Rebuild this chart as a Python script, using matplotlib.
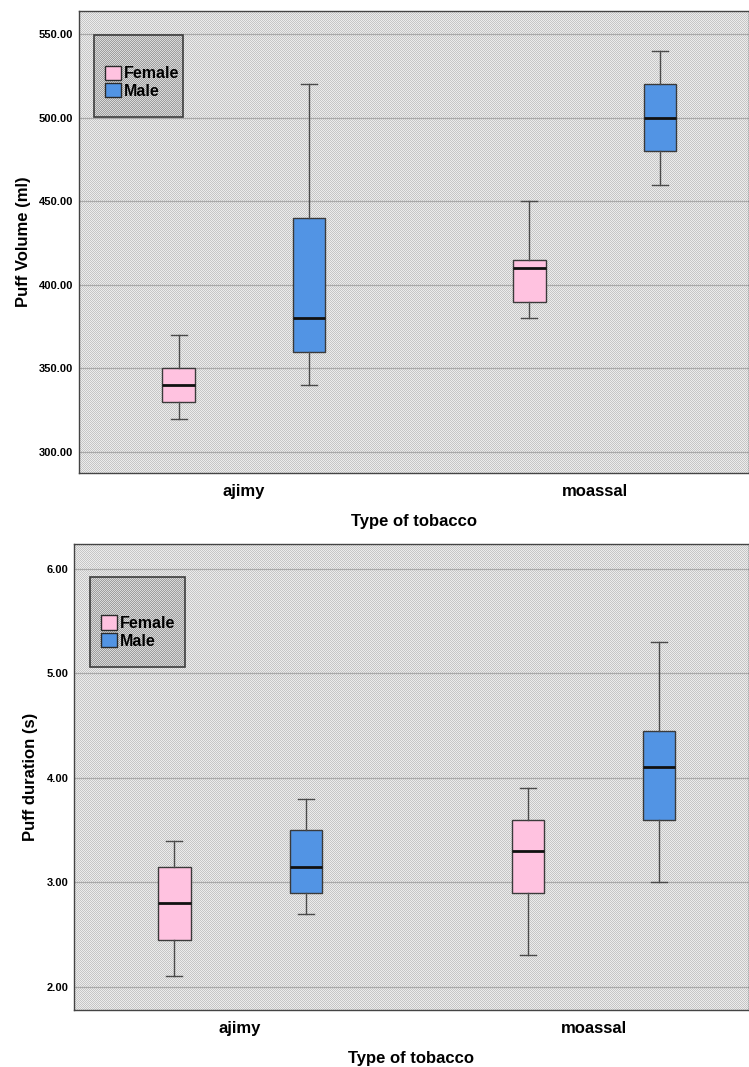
import numpy as np
import matplotlib
matplotlib.use("Agg")
import matplotlib.pyplot as plt
from matplotlib.patches import Rectangle, Patch

plt.rcParams['font.family'] = ['Liberation Sans', 'DejaVu Sans']
plt.rcParams['font.weight'] = 'bold'

# ---------------- data ----------------
categories = ['ajimy', 'moassal']
groups = ['Female', 'Male']
group_colors = ['#FFC2E0', '#5294E4']

# Puff volume (ml)
vol_female_low = [320, 380]
vol_female_q1 = [330, 390]
vol_female_med = [340, 410]
vol_female_q3 = [350, 415]
vol_female_high = [370, 450]

vol_male_low = [340, 460]
vol_male_q1 = [360, 480]
vol_male_med = [380, 500]
vol_male_q3 = [440, 520]
vol_male_high = [520, 540]

# Puff duration (s)
dur_female_low = [2.10, 2.30]
dur_female_q1 = [2.45, 2.90]
dur_female_med = [2.80, 3.30]
dur_female_q3 = [3.15, 3.60]
dur_female_high = [3.40, 3.90]

dur_male_low = [2.70, 3.00]
dur_male_q1 = [2.90, 3.60]
dur_male_med = [3.15, 4.10]
dur_male_q3 = [3.50, 4.45]
dur_male_high = [3.80, 5.30]

vol_ticks = [300, 350, 400, 450, 500, 550]
dur_ticks = [2, 3, 4, 5, 6]


def make_stats(low, q1, med, q3, high):
    return [dict(whislo=a, q1=b, med=c, q3=d, whishi=e, fliers=[])
            for a, b, c, d, e in zip(low, q1, med, q3, high)]


def checker(h, w, c1, c2):
    yy, xx = np.indices((h, w))
    m = ((yy + xx) % 2).astype(float)
    c1 = np.array(matplotlib.colors.to_rgb(c1))
    c2 = np.array(matplotlib.colors.to_rgb(c2))
    return c1[None, None, :] * (1 - m[..., None]) + c2[None, None, :] * m[..., None]


fig = plt.figure(figsize=(7.49, 10.67), dpi=100)

offset = 0.186
bw = 0.092


def draw_panel(ax, stats_f, stats_m, ticks, fmt, ylim, ylabel, leg_rect, pix):
    ax.set_facecolor('#d8d8d8')
    ax.imshow(checker(pix[1], pix[0], '#c6c6c6', '#ececec'), transform=ax.transAxes,
              extent=[0, 1, 0, 1], aspect='auto', interpolation='nearest', zorder=0)
    for t in ticks:
        ax.axhline(t, color='#a9a9a9', lw=0.9, zorder=1)
    idx = np.arange(len(categories))
    for stats, pos, col in [(stats_f, idx - offset, group_colors[0]),
                            (stats_m, idx + offset, group_colors[1])]:
        ax.bxp(stats, positions=pos, widths=bw, capwidths=bw / 2, showfliers=False,
               patch_artist=True, manage_ticks=False,
               boxprops=dict(facecolor=col, edgecolor='#3a3a3a', lw=1.0),
               whiskerprops=dict(color='#4a4a4a', lw=1.0),
               capprops=dict(color='#4a4a4a', lw=1.0),
               medianprops=dict(color='#111111', lw=2.0), zorder=3)
    ax.set_xlim(-0.47, 1.44)
    ax.set_ylim(*ylim)
    ax.set_yticks(ticks)
    ax.set_yticklabels([fmt.format(t) for t in ticks], fontsize=8, fontweight='bold')
    ax.set_xticks(idx)
    ax.set_xticklabels(categories, fontsize=12, fontweight='bold')
    ax.tick_params(axis='both', length=0, pad=4)
    ax.tick_params(axis='x', pad=8)
    ax.set_ylabel(ylabel, fontsize=12, fontweight='bold', labelpad=6)
    ax.set_xlabel('Type of tobacco', fontsize=12, fontweight='bold', labelpad=11)
    for s in ax.spines.values():
        s.set_color('#444444')
        s.set_linewidth(1.0)
    # legend box
    x0, y0, w, h = leg_rect
    ax.imshow(checker(int(h * pix[1]), int(w * pix[0]), '#9e9e9e', '#d8d8d8'),
              transform=ax.transAxes, extent=[x0, x0 + w, y0, y0 + h], aspect='auto',
              interpolation='nearest', zorder=4)
    ax.add_patch(Rectangle((x0, y0), w, h, transform=ax.transAxes, fill=False,
                           edgecolor='#3c3c3c', lw=1.2, zorder=5))
    handles = [Patch(facecolor=c, edgecolor='#2a2a2a', lw=1.0, label=g)
               for g, c in zip(groups, group_colors)]
    leg = ax.legend(handles=handles, loc='lower left',
                    bbox_to_anchor=(x0 - 0.002, y0 + 0.012), frameon=False,
                    prop=dict(size=11.5, weight='bold'), handlelength=1.0,
                    handleheight=1.0, handletextpad=0.15, labelspacing=0.12,
                    borderpad=0.3)
    leg.set_zorder(6)


# top panel: axes 79..749 px, 11..473 px
ax1 = fig.add_axes([79 / 749, 1 - 473 / 1067, 670 / 749, 462 / 1067])
draw_panel(ax1, make_stats(vol_female_low, vol_female_q1, vol_female_med, vol_female_q3, vol_female_high),
           make_stats(vol_male_low, vol_male_q1, vol_male_med, vol_male_q3, vol_male_high),
           vol_ticks, '{:.2f}', (287.4, 564), 'Puff Volume (ml)',
           ((94 - 79) / 670, (473 - 117) / 462, 89 / 670, 82 / 462), (670, 462))

# bottom panel: axes 74..749 px, 544..1010 px
ax2 = fig.add_axes([74 / 749, 1 - 1010 / 1067, 675 / 749, 466 / 1067])
draw_panel(ax2, make_stats(dur_female_low, dur_female_q1, dur_female_med, dur_female_q3, dur_female_high),
           make_stats(dur_male_low, dur_male_q1, dur_male_med, dur_male_q3, dur_male_high),
           dur_ticks, '{:.2f}', (1.777, 6.24), 'Puff duration (s)',
           ((90 - 74) / 675, (1010 - 667) / 466, 95 / 675, 90 / 466), (675, 466))

fig.savefig('out.png', dpi=100)
